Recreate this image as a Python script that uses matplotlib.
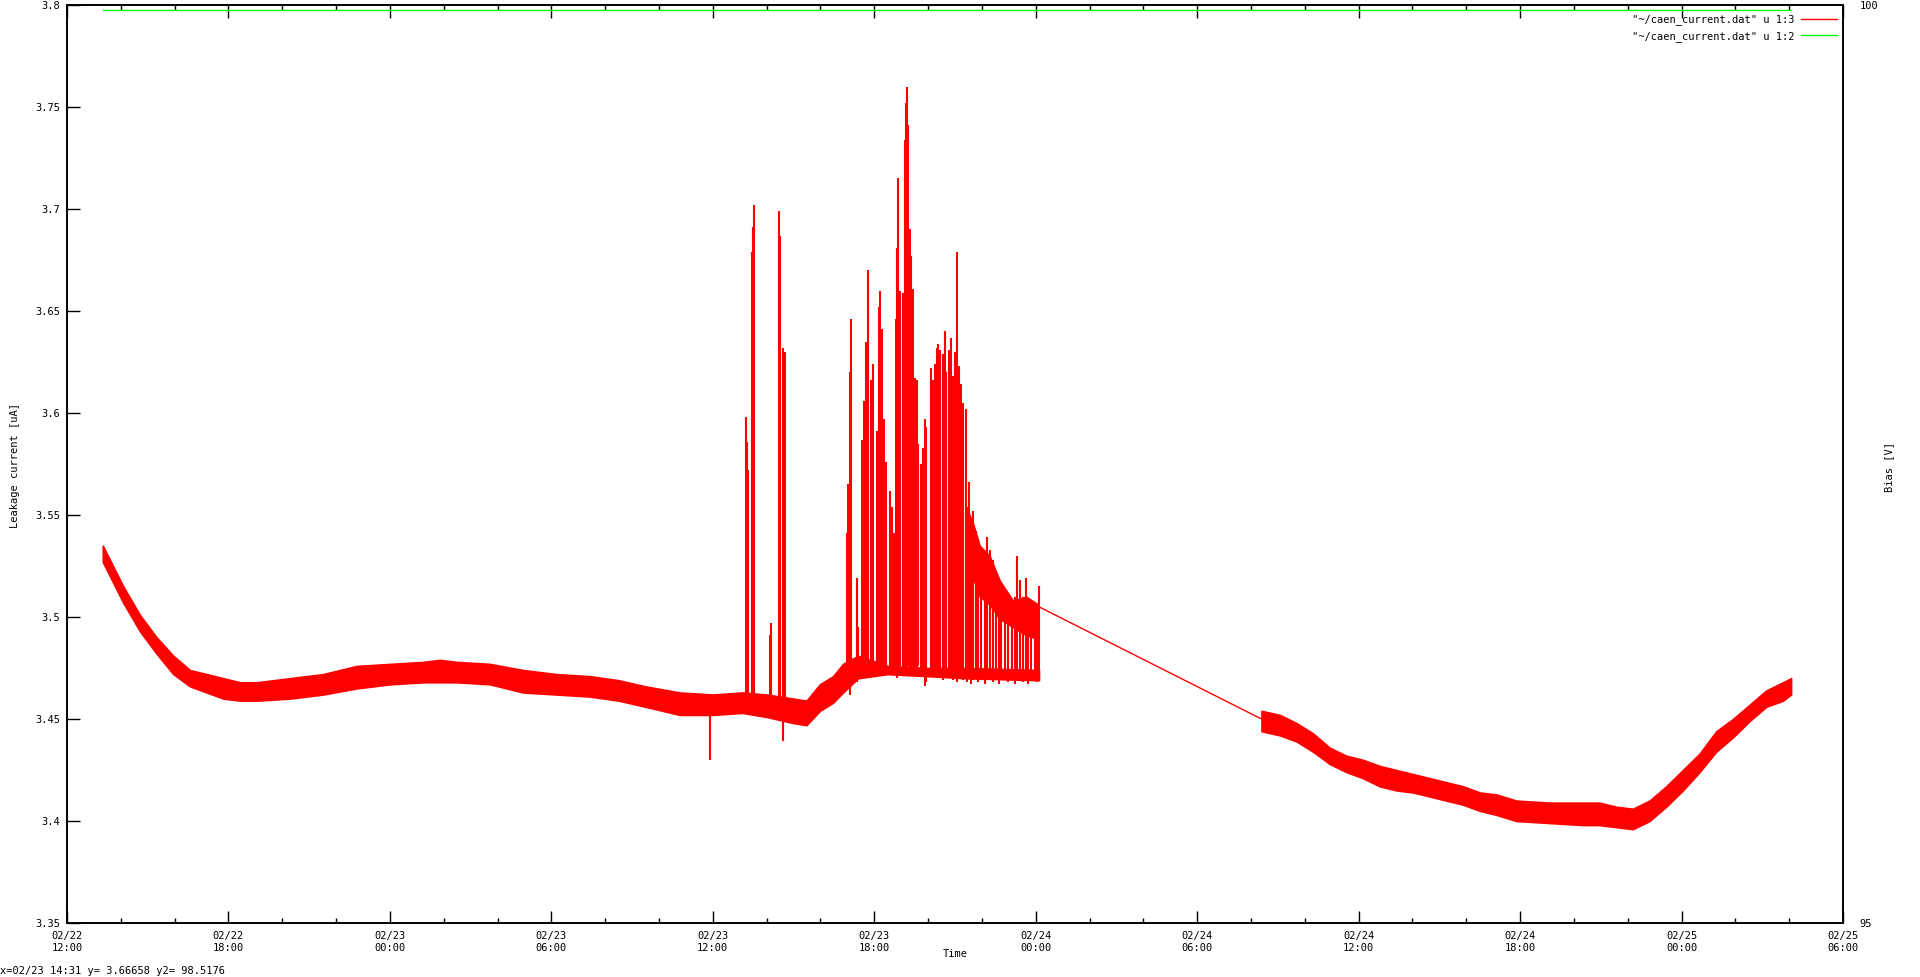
import numpy as np
import matplotlib
matplotlib.use("Agg")
import matplotlib.pyplot as plt
import matplotlib.dates as mdates
from datetime import datetime

plt.rcParams['font.family'] = ['DejaVu Sans Mono']
plt.rcParams['font.size'] = 7.5

# time axis: hours after 02/22 12:00
t0 = datetime(2011, 2, 22, 12, 0)
t_end = datetime(2011, 2, 25, 6, 0)

# leakage current, noise band (hours, upper, lower) before the gap
band1_h = [1.33, 2.09, 2.71, 3.33, 3.95, 4.57, 5.19, 5.81, 6.43, 7.05, 8.28, 9.52,
           10.76, 12.00, 13.24, 13.86, 14.48, 15.72, 16.95, 18.19, 19.43, 20.50,
           21.50, 22.77, 24.00, 25.10, 26.00, 26.99, 27.48, 27.98, 28.47, 28.84,
           29.40, 30.50, 32.00, 33.40, 36.12]
band1_hi = [3.535, 3.515, 3.501, 3.490, 3.481, 3.474, 3.472, 3.470, 3.468, 3.468,
            3.470, 3.472, 3.476, 3.477, 3.478, 3.479, 3.478, 3.477, 3.474, 3.472,
            3.471, 3.469, 3.466, 3.463, 3.462, 3.463, 3.462, 3.460, 3.459, 3.467,
            3.471, 3.477, 3.481, 3.476, 3.475, 3.475, 3.474]
band1_lo = [3.527, 3.507, 3.493, 3.482, 3.472, 3.466, 3.463, 3.460, 3.459, 3.459,
            3.460, 3.462, 3.465, 3.467, 3.468, 3.468, 3.468, 3.467, 3.463, 3.462,
            3.461, 3.459, 3.456, 3.452, 3.452, 3.453, 3.451, 3.448, 3.447, 3.454,
            3.458, 3.463, 3.470, 3.472, 3.471, 3.470, 3.469]

# dense core at the end of the first run
core_h = [33.42, 33.67, 33.92, 34.29, 34.66, 35.16, 35.65, 36.11]
core_hi = [3.554, 3.546, 3.535, 3.530, 3.518, 3.508, 3.510, 3.506]
core_lo = [3.521, 3.519, 3.510, 3.506, 3.499, 3.495, 3.491, 3.489]

# spikes (hours, top, bottom)
spike_h = [23.91, 25.24, 25.28, 25.31, 25.46, 25.50, 25.54, 26.13, 26.18, 26.45, 26.49,
           26.61, 26.67,
           28.97, 29.03, 29.09, 29.14, 29.34, 29.40, 29.56, 29.61, 29.71, 29.77, 29.89,
           29.96, 30.11, 30.17, 30.20, 30.27, 30.35, 30.45, 30.58, 30.65, 30.72, 30.80,
           30.85, 30.90, 30.97, 31.05, 31.13, 31.17, 31.22, 31.27, 31.32, 31.38, 31.44,
           31.50, 31.57, 31.64, 31.72, 31.81, 31.88, 31.94, 32.09, 32.19, 32.25, 32.33,
           32.38, 32.46, 32.56, 32.62, 32.68, 32.78, 32.85, 32.93, 33.00, 33.06, 33.15,
           33.24, 33.30, 33.40, 33.45, 33.52, 33.61, 33.67, 33.77, 33.86, 33.98, 34.11,
           34.19, 34.29, 34.41, 34.54, 34.64, 34.72, 34.85, 34.97, 35.10, 35.22, 35.31,
           35.41, 35.53, 35.63, 35.71, 35.84, 35.96, 36.05, 36.11]
spike_top = [3.458, 3.598, 3.586, 3.572, 3.679, 3.691, 3.702, 3.491, 3.497, 3.699, 3.687,
             3.632, 3.630,
             3.541, 3.565, 3.620, 3.646, 3.519, 3.495, 3.587, 3.606, 3.635, 3.670, 3.616,
             3.624, 3.591, 3.652, 3.660, 3.641, 3.597, 3.576, 3.562, 3.554, 3.541, 3.646,
             3.681, 3.715, 3.660, 3.659, 3.734, 3.752, 3.760, 3.741, 3.690, 3.677, 3.661,
             3.617, 3.616, 3.585, 3.575, 3.583, 3.597, 3.593, 3.622, 3.616, 3.624, 3.632,
             3.634, 3.631, 3.629, 3.640, 3.620, 3.631, 3.637, 3.618, 3.630, 3.679, 3.623,
             3.614, 3.605, 3.602, 3.554, 3.566, 3.544, 3.552, 3.542, 3.534, 3.532, 3.526,
             3.539, 3.533, 3.528, 3.522, 3.519, 3.515, 3.509, 3.506, 3.505, 3.510, 3.530,
             3.518, 3.510, 3.519, 3.507, 3.504, 3.497, 3.499, 3.515]
spike_bot = [3.430, 3.456, 3.455, 3.457, 3.455, 3.456, 3.455, 3.452, 3.453, 3.452, 3.453,
             3.439, 3.451,
             3.468, 3.466, 3.462, 3.470, 3.468, 3.469, 3.472, 3.471, 3.474, 3.472, 3.476,
             3.473, 3.474, 3.472, 3.475, 3.473, 3.476, 3.474, 3.475, 3.473, 3.476, 3.472,
             3.470, 3.473, 3.476, 3.474, 3.472, 3.475, 3.473, 3.476, 3.474, 3.473, 3.475,
             3.472, 3.474, 3.476, 3.473, 3.471, 3.466, 3.468, 3.472, 3.474, 3.471, 3.473,
             3.470, 3.472, 3.469, 3.471, 3.473, 3.470, 3.472, 3.469, 3.471, 3.468, 3.470,
             3.472, 3.469, 3.471, 3.468, 3.470, 3.467, 3.469, 3.471, 3.468, 3.470, 3.467,
             3.469, 3.471, 3.468, 3.470, 3.467, 3.469, 3.471, 3.468, 3.470, 3.467, 3.469,
             3.471, 3.468, 3.470, 3.467, 3.469, 3.471, 3.468, 3.470]

# no data in the gap: gnuplot joins the two runs with a straight line
gap_h = [36.12, 44.39]
gap_v = [3.505, 3.450]

# second run
band2_h = [44.39, 45.07, 45.69, 46.30, 46.92, 47.54, 48.16, 48.78, 49.40, 50.02, 50.64,
           51.26, 51.88, 52.50, 53.12, 53.86, 55.10, 56.33, 56.95, 57.57, 58.19, 58.81,
           59.43, 60.05, 60.67, 61.29, 61.91, 62.53, 63.15, 63.77, 64.07]
band2_hi = [3.454, 3.452, 3.448, 3.443, 3.436, 3.432, 3.430, 3.427, 3.425, 3.423, 3.421,
            3.419, 3.417, 3.414, 3.413, 3.410, 3.409, 3.409, 3.409, 3.407, 3.406, 3.410,
            3.417, 3.425, 3.433, 3.444, 3.450, 3.457, 3.464, 3.468, 3.470]
band2_lo = [3.444, 3.442, 3.439, 3.434, 3.428, 3.424, 3.421, 3.417, 3.415, 3.414, 3.412,
            3.410, 3.408, 3.405, 3.403, 3.400, 3.399, 3.398, 3.398, 3.397, 3.396, 3.400,
            3.407, 3.415, 3.424, 3.434, 3.441, 3.449, 3.456, 3.459, 3.462]

# bias voltage
bias_h = [1.33, 64.07]
bias_v = [99.975, 99.975]

legend_labels = ['"~/caen_current.dat" u 1:3', '"~/caen_current.dat" u 1:2']
status = 'x=02/23 14:31 y= 3.66658 y2= 98.5176'


def to_dates(hours):
    return mdates.date2num(t0) + np.asarray(hours) / 24.0


W, H = 1920, 977
fig = plt.figure(figsize=(W / 100, H / 100), dpi=100)
L, R, T, B = 67, 1843, 5, 923
ax = fig.add_axes([L / W, 1 - B / H, (R - L) / W, (B - T) / H])

red = '#ff0000'
green = '#00ff00'

ax.fill_between(to_dates(band1_h), band1_lo, band1_hi, color=red, lw=1.2)
ax.fill_between(to_dates(core_h), core_lo, core_hi, color=red, lw=1.0)
ax.vlines(to_dates(spike_h), spike_bot, spike_top, color=red, lw=1.5)
ax.plot(to_dates(gap_h), gap_v, color=red, lw=1.0)
ax.fill_between(to_dates(band2_h), band2_lo, band2_hi, color=red, lw=1.2)
red_line, = ax.plot([], [], color=red, lw=1.0, label=legend_labels[0])

ax.set_xlim(mdates.date2num(t0), mdates.date2num(t_end))
ax.set_ylim(3.35, 3.8)
ax.set_yticks(np.arange(3.35, 3.8001, 0.05))
ax.yaxis.set_major_formatter(plt.FuncFormatter(lambda v, p: ('%.2f' % v).rstrip('0')))
ax.xaxis.set_major_locator(mdates.HourLocator(byhour=[0, 6, 12, 18]))
ax.xaxis.set_minor_locator(mdates.HourLocator(byhour=range(0, 24, 2)))
ax.xaxis.set_major_formatter(mdates.DateFormatter('%m/%d\n%H:%M'))
ax.tick_params(which='both', direction='in', top=True, right=True, width=1.0)
ax.tick_params(which='major', length=9)
ax.tick_params(which='minor', length=3.8)
ax.tick_params(axis='y', which='minor', length=0)
ax.tick_params(axis='x', pad=6)
ax.tick_params(axis='y', pad=5)
for s in ax.spines.values():
    s.set_linewidth(1.2)

ax2 = ax.twinx()
ax2.plot(to_dates(bias_h), bias_v, color=green, lw=1.0, label=legend_labels[1])
ax2.set_ylim(95, 100)
ax2.set_yticks([95, 100])
ax2.tick_params(direction='in', length=0, pad=12)
for s in ax2.spines.values():
    s.set_linewidth(1.2)

leg = ax2.legend([red_line, ax2.lines[0]], legend_labels, loc='upper right',
                 bbox_to_anchor=(0.9965, 0.99), frameon=False, markerfirst=False,
                 handlelength=3.4, handletextpad=0.7, labelspacing=0.55,
                 borderaxespad=0, borderpad=0)

fig.text((L + R) / 2 / W, 1 - 954 / H, 'Time', ha='center', va='center')
fig.text(15 / W, 1 - 465 / H, 'Leakage current [uA]', rotation=90,
         ha='center', va='center')
fig.text(1889 / W, 1 - 467 / H, 'Bias [V]', rotation=90, ha='center', va='center')
fig.text(0.0, 1 - 971 / H, status, ha='left', va='center')

fig.savefig('out.png', dpi=100, facecolor='white')
